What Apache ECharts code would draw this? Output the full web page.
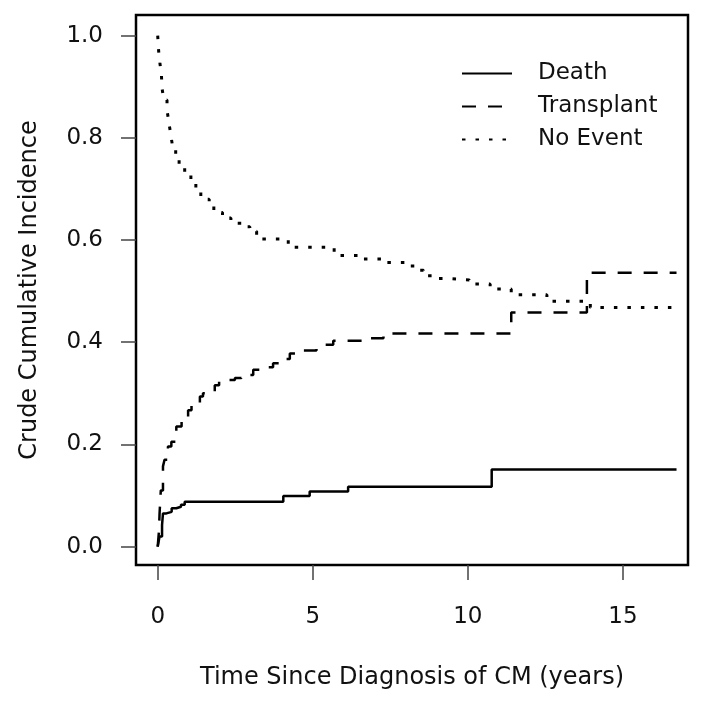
<!DOCTYPE html>
<html>
<head>
<meta charset="utf-8">
<script src="https://cdn.jsdelivr.net/npm/echarts@6/dist/echarts.min.js"></script>
<style>html,body{margin:0;padding:0;background:#fff;}#c{width:702px;height:710px;}</style>
</head>
<body>
<div id="c"></div>
<script>
var seriesNames = ['Death', 'Transplant', 'No Event'];
var xTicks = [0, 5, 10, 15];
var yTicks = [0, 0.2, 0.4, 0.6, 0.8, 1.0];

var deathData = [[0,0],[0.06,0.02],[0.14,0.042],[0.17,0.065],[0.28,0.068],[0.45,0.075],[0.6,0.078],[0.75,0.082],[0.87,0.088],[4.05,0.099],[4.9,0.108],[6.14,0.117],[10.77,0.151],[16.73,0.151]];

var transplantData = [[0,0],[0.04,0.03],[0.06,0.065],[0.1,0.11],[0.17,0.157],[0.22,0.17],[0.33,0.196],[0.44,0.205],[0.6,0.235],[0.77,0.245],[0.98,0.267],[1.09,0.277],[1.36,0.294],[1.46,0.3],[1.84,0.316],[1.98,0.326],[2.49,0.33],[2.7,0.336],[3.08,0.346],[3.35,0.351],[3.72,0.359],[4.05,0.367],[4.26,0.378],[4.59,0.384],[5.12,0.388],[5.18,0.395],[5.66,0.403],[6.79,0.408],[7.28,0.417],[11.4,0.458],[13.84,0.536],[16.73,0.536]];

var noEventData = [[0,1.0],[0.03,0.97],[0.07,0.947],[0.12,0.923],[0.14,0.897],[0.2,0.874],[0.3,0.855],[0.36,0.83],[0.42,0.807],[0.48,0.783],[0.58,0.765],[0.69,0.745],[0.87,0.729],[1.07,0.714],[1.23,0.695],[1.39,0.68],[1.66,0.671],[1.81,0.654],[2.09,0.643],[2.36,0.633],[2.7,0.626],[2.97,0.617],[3.19,0.602],[4.21,0.586],[5.69,0.57],[6.47,0.563],[7.22,0.556],[8.0,0.549],[8.3,0.541],[8.57,0.53],[8.9,0.525],[9.27,0.522],[10.05,0.514],[10.72,0.504],[11.4,0.493],[12.55,0.48],[13.95,0.468],[16.73,0.467]];

var FONT = 'DejaVu Sans';
var chart = echarts.init(document.getElementById('c'), null, {renderer: 'canvas'});
chart.setOption({
  animation: false,
  backgroundColor: '#fff',
  grid: {left: 136, right: 14, top: 15, bottom: 145, show: true, borderColor: '#000', borderWidth: 2.5, backgroundColor: 'transparent'},
  legend: {
    orient: 'vertical', left: 456, top: 57, itemWidth: 50, itemHeight: 14, itemGap: 10,
    data: seriesNames,
    itemStyle: {opacity: 0},
    textStyle: {fontFamily: FONT, fontSize: 23, color: '#111', padding: [0, 0, 0, 21]},
    selectedMode: false
  },
  xAxis: {
    type: 'value', min: -0.7, max: 17.1,
    name: 'Time Since Diagnosis of CM (years)', nameLocation: 'middle', nameGap: 101,
    nameTextStyle: {fontFamily: FONT, fontSize: 24, color: '#111'},
    axisLine: {show: false, onZero: false},
    splitLine: {show: false},
    axisTick: {show: true, inside: false, length: 15, customValues: xTicks, lineStyle: {color: '#444', width: 1.5}},
    axisLabel: {customValues: xTicks, margin: 41, fontFamily: FONT, fontSize: 23, color: '#111'}
  },
  yAxis: {
    type: 'value', min: -0.036, max: 1.0405,
    name: 'Crude Cumulative Incidence', nameLocation: 'middle', nameGap: 94,
    nameTextStyle: {fontFamily: FONT, fontSize: 24, color: '#111'},
    axisLine: {show: false, onZero: false},
    splitLine: {show: false},
    axisTick: {show: true, inside: false, length: 15, customValues: yTicks, lineStyle: {color: '#444', width: 1.5}},
    axisLabel: {customValues: yTicks, margin: 33, fontFamily: FONT, fontSize: 23, color: '#111', formatter: function(v){return v.toFixed(1);}}
  },
  series: [
    {name: seriesNames[0], type: 'line', step: 'end', data: deathData, showSymbol: false, symbol: 'none',
     lineStyle: {color: '#000', width: 2.5, type: 'solid'}, itemStyle: {color: '#000'}},
    {name: seriesNames[1], type: 'line', step: 'end', data: transplantData, showSymbol: false, symbol: 'none',
     lineStyle: {color: '#000', width: 2.5, type: [14, 12]}, itemStyle: {color: '#000'}},
    {name: seriesNames[2], type: 'line', step: 'end', data: noEventData, showSymbol: false, symbol: 'none',
     lineStyle: {color: '#000', width: 3, type: [3.5, 10]}, itemStyle: {color: '#000'}}
  ]
});
</script>
</body>
</html>
